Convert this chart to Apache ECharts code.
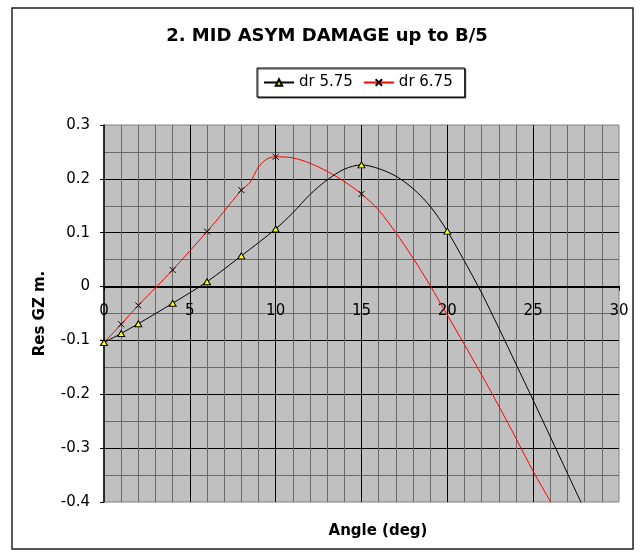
<!DOCTYPE html>
<html>
<head>
<meta charset="utf-8">
<script src="https://cdn.jsdelivr.net/npm/echarts@6/dist/echarts.min.js"></script>
<style>
html, body { margin: 0; padding: 0; background: #fff; }
#main { width: 643px; height: 558px; }
</style>
</head>
<body>
<div id="main"></div>
<script>
// values: heel angle (deg) -> residual GZ (m)
var dr575Angle = [0, 1, 2, 4, 6, 8, 10, 11, 12, 13, 14, 15, 16, 17, 18, 19, 20, 21, 22, 23, 24, 25, 26, 27, 28];
var dr575GZ = [-0.104, -0.087, -0.069, -0.031, 0.009, 0.057, 0.107, 0.137, 0.171, 0.198, 0.218, 0.226, 0.219, 0.205, 0.182, 0.149, 0.103, 0.047, -0.012, -0.077, -0.144, -0.211, -0.279, -0.347, -0.415];
var dr575Marks = [0, 1, 2, 4, 6, 8, 10, 15, 20];

var dr675Angle = [0, 1, 2, 4, 6, 7, 8, 8.5, 9, 9.5, 10, 11, 12, 13, 14, 15, 16, 17, 18, 19, 20, 21, 22, 23, 24, 25, 26, 27];
var dr675GZ = [-0.104, -0.070, -0.035, 0.031, 0.102, 0.140, 0.179, 0.193, 0.222, 0.237, 0.241, 0.239, 0.229, 0.214, 0.195, 0.172, 0.142, 0.100, 0.053, 0.002, -0.053, -0.108, -0.164, -0.222, -0.282, -0.343, -0.399, -0.456];
var dr675Marks = [0, 1, 2, 4, 6, 8, 10, 15];

var xTicks = [0, 5, 10, 15, 20, 25, 30];
var yTicks = [-0.4, -0.3, -0.2, -0.1, 0, 0.1, 0.2, 0.3];

var font = "'DejaVu Sans', sans-serif";
var gridTop = 125, gridBottom = 56;

// only the measured points get a marker, the rest just shape the curve
function toData(xs, ys, marks) {
  return xs.map(function (x, i) {
    var d = { value: [x, ys[i]] };
    if (marks.indexOf(x) < 0) d.symbol = 'none';
    return d;
  });
}

var minorLine = { show: true, lineStyle: { color: '#6a6a6a', width: 1 } };
var majorLine = { show: true, showMinLine: false, showMaxLine: false, lineStyle: { color: '#000', width: 1 } };

var chart = echarts.init(document.getElementById('main'));
chart.setOption({
  animation: false,
  backgroundColor: '#fff',
  textStyle: { fontFamily: font, color: '#000' },
  title: {
    text: '2. MID ASYM DAMAGE up to B/5',
    left: 327,
    top: 27,
    padding: 0,
    textAlign: 'center',
    textStyle: { fontFamily: font, fontSize: 18, fontWeight: 'bold', color: '#000' }
  },
  legend: {
    left: 257,
    top: 68,
    padding: [7, 12, 7, 6],
    itemGap: 10,
    itemWidth: 30,
    itemHeight: 8,
    backgroundColor: '#fff',
    borderColor: '#000',
    borderWidth: 1,
    shadowColor: 'rgba(0,0,0,0.7)',
    shadowOffsetX: 1,
    shadowOffsetY: 1,
    textStyle: { fontFamily: font, fontSize: 15, color: '#000' }
  },
  grid: {
    left: 104, right: 24, top: gridTop, bottom: gridBottom,
    show: true,
    backgroundColor: '#c0c0c0',
    borderColor: '#808080',
    borderWidth: 1
  },
  xAxis: {
    type: 'value',
    min: xTicks[0],
    max: xTicks[xTicks.length - 1],
    interval: xTicks[1] - xTicks[0],
    axisLine: { onZero: false, lineStyle: { color: '#000', width: 2 } },
    axisTick: { show: true, length: 4, lineStyle: { color: '#000' } },
    axisLabel: { margin: 17, fontSize: 15, color: '#000', fontFamily: font },
    splitLine: majorLine,
    minorTick: { show: false, splitNumber: 5 },
    minorSplitLine: minorLine
  },
  yAxis: {
    type: 'value',
    min: yTicks[0],
    max: yTicks[yTicks.length - 1],
    interval: 0.1,
    name: 'Res GZ m.',
    nameLocation: 'middle',
    nameGap: 56,
    nameTextStyle: { fontFamily: font, fontSize: 15, fontWeight: 'bold', color: '#000' },
    axisLine: { show: true, onZero: false, lineStyle: { color: '#000', width: 1.5 } },
    axisTick: { show: true, length: 4, lineStyle: { color: '#000' } },
    axisLabel: { margin: 14, fontSize: 15, color: '#000', fontFamily: font },
    splitLine: majorLine,
    minorTick: { show: false, splitNumber: 2 },
    minorSplitLine: minorLine
  },
  graphic: [
    {
      type: 'rect',
      shape: { x: 12, y: 8, width: 621, height: 541 },
      style: { fill: 'none', stroke: '#222', lineWidth: 1.5 },
      silent: true
    },
    {
      type: 'text',
      x: 378, y: 531,
      style: {
        text: 'Angle (deg)',
        fontFamily: font, fontSize: 15, fontWeight: 'bold',
        fill: '#000', align: 'center', verticalAlign: 'middle'
      }
    }
  ],
  series: [
    {
      name: 'dr 5.75',
      type: 'line',
      smooth: 0.3,
      showAllSymbol: true,
      symbol: 'triangle',
      symbolSize: [7, 6],
      itemStyle: { color: '#ffff00', borderColor: '#000', borderWidth: 1 },
      lineStyle: { color: '#000', width: 1 },
      z: 3,
      data: toData(dr575Angle, dr575GZ, dr575Marks)
    },
    {
      name: 'dr 6.75',
      type: 'line',
      smooth: 0.3,
      showAllSymbol: true,
      symbol: 'path://M0,0L10,10M10,0L0,10',
      symbolSize: [6, 6],
      itemStyle: { color: '#000', borderColor: '#000', borderWidth: 1 },
      lineStyle: { color: '#ff0000', width: 1 },
      z: 2,
      data: toData(dr675Angle, dr675GZ, dr675Marks)
    }
  ]
});

// Excel draws the category axis where GZ = 0, so lift the x axis up to that line
var zeroY = chart.convertToPixel({ yAxisIndex: 0 }, 0);
chart.setOption({ xAxis: { offset: zeroY - (558 - gridBottom) } });
</script>
</body>
</html>
